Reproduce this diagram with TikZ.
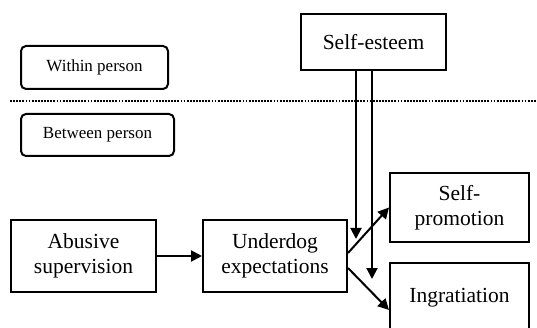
\documentclass[tikz,border=0pt]{standalone}
\usepackage{fontspec}
\setmainfont{Liberation Serif}
\usetikzlibrary{arrows.meta}
\begin{document}
\begin{tikzpicture}[x=1pt,y=-1pt,
  box/.style={draw, line width=2pt, inner sep=0pt, align=center,
    font=\fontsize{21.5}{25}\selectfont},
  tag/.style={draw, line width=2pt, rounded corners=5pt, inner sep=0pt,
    font=\fontsize{17}{20}\selectfont},
  arr/.style={line width=2pt, -{Triangle[length=11pt,width=11pt]}}
]
\useasboundingbox (0,0) rectangle (537,328);
\node[tag, minimum width=147pt, minimum height=43pt] (within) at (94.5,67.5) {Within person};
\node[tag, minimum width=153pt, minimum height=42pt] (between) at (97.5,135) {Between person};
\coordinate (dl) at (10,101);
\coordinate (dr) at (537,101);
\draw[line width=1.8pt, dash pattern=on 1.8pt off 1.3pt] (dl) -- (dr);
\node[box, minimum width=145pt, minimum height=56pt] (selfesteem) at (373.5,42) {Self-esteem};
\node[box, minimum width=145pt, minimum height=72pt] (abusive) at (83.5,256) {Abusive\\supervision};
\node[box, minimum width=144pt, minimum height=72pt] (underdog) at (275,256) {Underdog\\expectations};
\node[box, minimum width=139pt, minimum height=69pt] (selfpromo) at (459.5,207.5) {Self-\\promotion};
\node[box, minimum width=139pt, minimum height=69pt] (ingrat) at (459.5,297.5) {Ingratiation};
\coordinate (m1) at (356,239);
\coordinate (m2) at (372,279);
\draw[arr] (selfesteem.south -| m1) -- (m1);
\draw[arr] (selfesteem.south -| m2) -- (m2);
\draw[arr] (abusive.east) -- (underdog.west);
\draw[arr] ([yshift=3pt]underdog.east) -- ([yshift=0pt]selfpromo.west);
\draw[arr] ([yshift=-12pt]underdog.east) -- ([yshift=-12.5pt]ingrat.west);
\end{tikzpicture}
\end{document}
